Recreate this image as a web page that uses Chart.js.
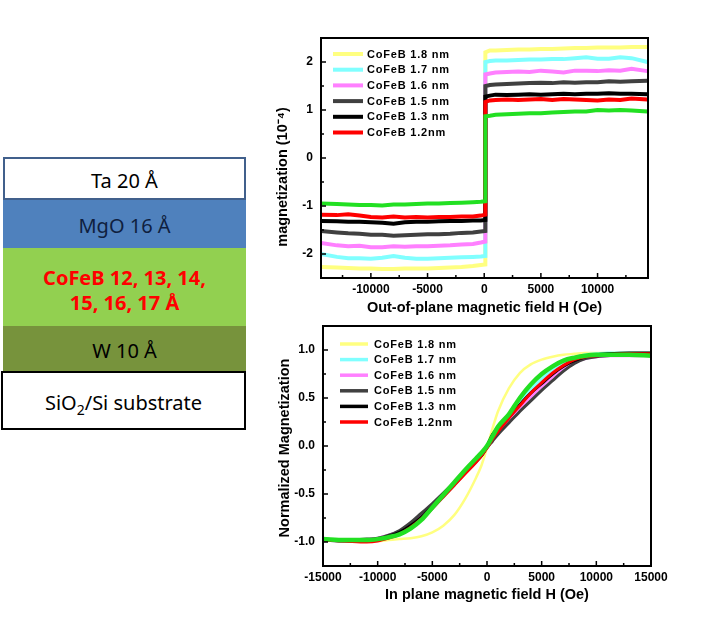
<!DOCTYPE html>
<html><head><meta charset="utf-8">
<script src="https://cdn.jsdelivr.net/npm/chart.js@4.4.1/dist/chart.umd.min.js"></script>
<style>
html,body{margin:0;padding:0;background:#fff;}
body{width:718px;height:622px;position:relative;overflow:hidden;font-family:"Noto Sans",sans-serif;}
.layer{position:absolute;box-sizing:border-box;display:flex;align-items:center;justify-content:center;text-align:center;font-size:20px;}
canvas{position:absolute;}
</style></head><body>
<div class="layer" style="left:3px;top:157px;width:243px;height:43px;border:2px solid #41608C;background:#fff;color:#000;padding-top:3px;">Ta 20 Å</div>
<div class="layer" style="left:3px;top:200px;width:243px;height:48px;background:#4F81BD;color:#0F1F3F;padding-top:3px;">MgO 16 Å</div>
<div class="layer" style="left:3px;top:248px;width:243px;height:78px;background:#92D050;color:#FF0000;font-weight:bold;line-height:25px;padding-top:5px;">CoFeB 12, 13, 14,<br>15, 16, 17 Å</div>
<div class="layer" style="left:3px;top:326px;width:243px;height:45px;background:#77933C;color:#000;padding-top:3px;">W 10 Å</div>
<div class="layer" style="left:1px;top:371px;width:245px;height:59px;border:2.5px solid #000;background:#fff;color:#000;padding-top:3px;"><span>SiO<span style="font-size:14px;position:relative;top:5px;">2</span>/Si substrate</span></div>

<div style="position:absolute;left:265px;top:30px;width:395px;height:290px;"><canvas id="c1"></canvas></div>
<div style="position:absolute;left:265px;top:318px;width:410px;height:300px;"><canvas id="c2"></canvas></div>

<script>
// ---------- Data ----------
const seriesLabels = ["CoFeB 1.8 nm","CoFeB 1.7 nm","CoFeB 1.6 nm","CoFeB 1.5 nm","CoFeB 1.3 nm","CoFeB 1.2nm","CoFeB 1.4 nm"];
const seriesColors = ["#FFFF80","#80FFFF","#FF80FF","#404040","#000000","#FF0000","#22E022"];
const inLegend = [true,true,true,true,true,true,false];

// Out-of-plane loops (magnetization, 10^-4)
const fieldOOP = [-14400,-13000,-12000,-11000,-10000,-9000,-8000,-7000,-6000,-5000,-4000,-3000,-2000,-1000,-300,100,
                  100,500,1000,2000,3000,4000,5000,6000,7000,8000,9000,10000,11000,12000,13000,14400];
const oop18 = [-2.27,-2.28,-2.29,-2.30,-2.30,-2.31,-2.31,-2.30,-2.30,-2.30,-2.29,-2.28,-2.27,-2.25,-2.23,-2.22,
               2.20,2.24,2.24,2.25,2.26,2.26,2.27,2.27,2.28,2.29,2.29,2.30,2.30,2.30,2.31,2.31];
const oop17 = [-2.00,-2.06,-2.09,-2.09,-2.10,-2.08,-2.04,-2.08,-2.10,-2.10,-2.09,-2.08,-2.07,-2.06,-2.05,-2.04,
               2.00,2.02,2.03,2.03,2.04,2.05,2.05,2.06,2.06,2.08,2.10,2.07,2.07,2.10,2.08,2.00];
const oop16 = [-1.77,-1.82,-1.84,-1.83,-1.86,-1.86,-1.84,-1.85,-1.84,-1.84,-1.83,-1.82,-1.80,-1.79,-1.76,-1.74,
               1.74,1.76,1.78,1.79,1.80,1.79,1.82,1.80,1.78,1.82,1.82,1.81,1.83,1.82,1.86,1.81];
const oop15 = [-1.52,-1.55,-1.57,-1.58,-1.60,-1.60,-1.62,-1.61,-1.60,-1.59,-1.59,-1.58,-1.56,-1.55,-1.53,-1.52,
               1.50,1.52,1.53,1.54,1.55,1.56,1.57,1.56,1.58,1.57,1.58,1.58,1.60,1.59,1.60,1.61];
const oop13 = [-1.31,-1.32,-1.33,-1.33,-1.34,-1.35,-1.37,-1.34,-1.33,-1.33,-1.32,-1.31,-1.31,-1.30,-1.30,-1.29,
               1.28,1.30,1.32,1.31,1.32,1.33,1.32,1.33,1.34,1.33,1.34,1.34,1.35,1.34,1.34,1.33];
const oop12 = [-1.18,-1.19,-1.17,-1.20,-1.23,-1.24,-1.22,-1.24,-1.23,-1.24,-1.23,-1.23,-1.22,-1.22,-1.20,-1.18,
               1.17,1.20,1.21,1.22,1.21,1.22,1.23,1.21,1.23,1.22,1.21,1.20,1.22,1.21,1.24,1.22];
const oop14 = [-0.95,-0.96,-0.97,-0.98,-0.98,-0.99,-0.97,-0.97,-0.96,-0.95,-0.95,-0.94,-0.93,-0.92,-0.91,-0.90,
               0.87,0.88,0.90,0.91,0.92,0.93,0.93,0.95,0.96,0.97,0.97,1.00,0.99,1.00,0.99,0.97];

// In-plane loops (normalized magnetization)
const fieldIP = [-15000,-13000,-11000,-10000,-9000,-8000,-7000,-6000,-5000,-4000,-3000,-2000,-1000,-500,0,
                 500,1000,2000,3000,4000,5000,6000,7000,8000,9000,10000,11000,13000,15000];
const ip18 = [-0.98,-0.99,-0.99,-0.99,-0.98,-0.97,-0.96,-0.94,-0.90,-0.83,-0.72,-0.55,-0.33,-0.20,-0.02,
              0.18,0.36,0.60,0.76,0.85,0.90,0.93,0.95,0.96,0.97,0.97,0.97,0.97,0.97];
const ip17 = [-0.97,-0.98,-0.98,-0.97,-0.95,-0.91,-0.85,-0.76,-0.65,-0.53,-0.41,-0.28,-0.15,-0.08,0.00,
              0.09,0.19,0.32,0.46,0.59,0.70,0.80,0.87,0.92,0.95,0.96,0.97,0.97,0.97];
const ip16 = [-0.97,-0.98,-0.98,-0.96,-0.93,-0.89,-0.82,-0.72,-0.61,-0.50,-0.38,-0.26,-0.14,-0.08,0.00,
              0.10,0.16,0.28,0.40,0.51,0.62,0.72,0.80,0.87,0.91,0.93,0.94,0.94,0.94];
const ip15 = [-0.97,-0.98,-0.97,-0.96,-0.93,-0.88,-0.80,-0.70,-0.60,-0.49,-0.38,-0.27,-0.16,-0.10,-0.02,
              0.05,0.12,0.24,0.36,0.47,0.58,0.68,0.78,0.86,0.91,0.93,0.94,0.96,0.96];
const ip13 = [-0.98,-0.99,-0.99,-0.97,-0.94,-0.90,-0.83,-0.74,-0.63,-0.52,-0.40,-0.28,-0.16,-0.10,0.00,
              0.12,0.18,0.30,0.43,0.55,0.65,0.75,0.83,0.89,0.93,0.95,0.96,0.97,0.97];
const ip12 = [-0.98,-0.99,-1.00,-0.99,-0.96,-0.92,-0.85,-0.76,-0.65,-0.53,-0.41,-0.29,-0.17,-0.10,-0.02,
              0.07,0.15,0.29,0.42,0.55,0.66,0.76,0.84,0.90,0.93,0.94,0.95,0.96,0.96];
const ip14 = [-0.97,-0.98,-0.98,-0.97,-0.95,-0.92,-0.86,-0.77,-0.64,-0.51,-0.38,-0.25,-0.13,-0.07,0.00,
              0.10,0.20,0.33,0.50,0.64,0.75,0.83,0.89,0.92,0.94,0.95,0.95,0.95,0.94];

// Ticks
const oopXTicks = [-10000,-5000,0,5000,10000];
const oopYTicks = [-2,-1,0,1,2];
const ipXTicks = [-15000,-10000,-5000,0,5000,10000,15000];
const ipYTicks = [-1.0,-0.5,0.0,0.5,1.0];

// ---------- Helpers ----------
const FONT = "'Liberation Sans', Arial, sans-serif";
function makeSets(xs, ys, widths){
  const order = [6,5,4,3,2,1,0];
  return ys.map((arr,i)=>({
    label: seriesLabels[i],
    data: arr.map((v,k)=>({x: xs[k], y: v})),
    borderColor: seriesColors[i],
    backgroundColor: seriesColors[i],
    borderWidth: widths[i],
    pointRadius: 0,
    showLine: true,
    fill: false,
    order: order[i],
    inLegend: inLegend[i]
  }));
}

const framePlugin = {
  id: 'frame',
  afterDraw(chart, args, opts){
    const {ctx, chartArea:a} = chart;
    const xs = chart.scales.x, ys = chart.scales.y;
    ctx.save();
    ctx.strokeStyle = '#000';
    ctx.lineWidth = 1.5;
    ctx.beginPath();
    opts.xMinor.forEach(v=>{const p=xs.getPixelForValue(v); ctx.moveTo(p,a.bottom); ctx.lineTo(p,a.bottom-3);});
    opts.xMajor.forEach(v=>{const p=xs.getPixelForValue(v); ctx.moveTo(p,a.bottom); ctx.lineTo(p,a.bottom-5);});
    opts.yMinor.forEach(v=>{const p=ys.getPixelForValue(v); ctx.moveTo(a.left,p); ctx.lineTo(a.left+3,p);});
    opts.yMajor.forEach(v=>{const p=ys.getPixelForValue(v); ctx.moveTo(a.left,p); ctx.lineTo(a.left+5,p);});
    ctx.stroke();
    ctx.lineWidth = 2;
    ctx.strokeRect(a.left, a.top, a.right-a.left, a.bottom-a.top);
    // y-axis title
    const T = opts.yTitle;
    ctx.save();
    ctx.fillStyle = '#000';
    ctx.font = "bold 14.5px " + FONT;
    ctx.textAlign = 'center';
    ctx.textBaseline = 'middle';
    ctx.translate(T.x, (a.top + a.bottom)/2 + T.dy);
    ctx.rotate(-Math.PI/2);
    ctx.fillText(T.text, 0, 0);
    ctx.restore();
    // legend
    const L = opts.legend;
    let row = 0;
    ctx.font = "bold 11px " + FONT;
    ctx.textBaseline = 'middle';
    ctx.textAlign = 'left';
    try { ctx.letterSpacing = '0.8px'; } catch(e){}
    chart.data.datasets.forEach(ds=>{
      if(!ds.inLegend) return;
      const y = a.top + L.y0 + row*L.dy;
      ctx.strokeStyle = ds.borderColor;
      ctx.lineWidth = L.lw;
      ctx.beginPath();
      ctx.moveTo(a.left+L.x0, y); ctx.lineTo(a.left+L.x1, y);
      ctx.stroke();
      ctx.fillStyle = '#000';
      ctx.fillText(ds.label, a.left+L.tx, y+0.5);
      row++;
    });
    ctx.restore();
  }
};

function axisCommon(ticksVals, fmt, pad){
  return {
    type: 'linear',
    grid: {display: false, drawTicks: false},
    border: {display: false},
    afterBuildTicks: s => { s.ticks = ticksVals.map(v=>({value:v})); },
    ticks: {color:'#000', font:{family:FONT, size:12, weight:'bold'}, padding: pad, callback: fmt, autoSkip:false, maxRotation:0}
  };
}
function fitY(w){ return s => { s.width = w; s.paddingTop = 0; s.paddingBottom = 0; }; }
function fitX(h){ return s => { s.height = h; s.paddingLeft = 0; s.paddingRight = 0; }; }

// ---------- Chart 1: out-of-plane ----------
new Chart(document.getElementById('c1'), {
  type: 'scatter',
  data: { datasets: makeSets(fieldOOP, [oop18,oop17,oop16,oop15,oop13,oop12,oop14], [4,4,4,4,4,4,4]) },
  options: {
    responsive: true, maintainAspectRatio: false, animation: false,
    layout: {padding: {top: 8, right: 12, left: 0, bottom: 0}},
    plugins: {
      legend: {display:false}, tooltip:{enabled:false},
      frame: {
        xMajor: oopXTicks, xMinor: [-12500,-7500,-2500,2500,7500,12500],
        yMajor: oopYTicks, yMinor: [-2.5,-1.5,-0.5,0.5,1.5,2.5],
        legend: {x0: 12, x1: 42, tx: 46, y0: 16, dy: 15.7, lw: 4},
        yTitle: {text: 'magnetization (10⁻⁴)', x: 18, dy: 19}
      }
    },
    scales: {
      x: Object.assign(axisCommon(oopXTicks, v=>String(v), 4), {
        min: -14400, max: 14450,
        afterFit: fitX(42),
        title: {display:true, text:'Out-of-plane magnetic field H (Oe)', color:'#000', font:{family:FONT,size:14.5,weight:'bold'}, padding:{top:0,bottom:3}}
      }),
      y: Object.assign(axisCommon(oopYTicks, v=>String(v), 8), {
        min: -2.5, max: 2.5,
        afterFit: fitY(56)
      })
    }
  },
  plugins: [framePlugin]
});

// ---------- Chart 2: in-plane ----------
new Chart(document.getElementById('c2'), {
  type: 'scatter',
  data: { datasets: makeSets(fieldIP, [ip18,ip17,ip16,ip15,ip13,ip12,ip14], [2.5,3,3,3,3,3,4.5]).map(d=>Object.assign(d,{tension:0.35, cubicInterpolationMode:'monotone'})) },
  options: {
    responsive: true, maintainAspectRatio: false, animation: false,
    layout: {padding: {top: 8, right: 24, left: 0, bottom: 0}},
    plugins: {
      legend: {display:false}, tooltip:{enabled:false},
      frame: {
        xMajor: ipXTicks, xMinor: [-12500,-7500,-2500,2500,7500,12500],
        yMajor: ipYTicks, yMinor: [-1.25,-0.75,-0.25,0.25,0.75,1.25],
        legend: {x0: 17, x1: 45, tx: 51, y0: 18, dy: 15.6, lw: 3.5},
        yTitle: {text: 'Normalized Magnetization', x: 20, dy: 2}
      }
    },
    scales: {
      x: Object.assign(axisCommon(ipXTicks, v=>String(v), 4), {
        min: -15000, max: 15000,
        afterFit: fitX(52),
        title: {display:true, text:'In plane magnetic field H (Oe)', color:'#000', font:{family:FONT,size:14.5,weight:'bold'}, padding:{top:0,bottom:14}}
      }),
      y: Object.assign(axisCommon(ipYTicks, v=>v.toFixed(1), 8), {
        min: -1.25, max: 1.25,
        afterFit: fitY(58)
      })
    }
  },
  plugins: [framePlugin]
});
</script>
</body></html>
